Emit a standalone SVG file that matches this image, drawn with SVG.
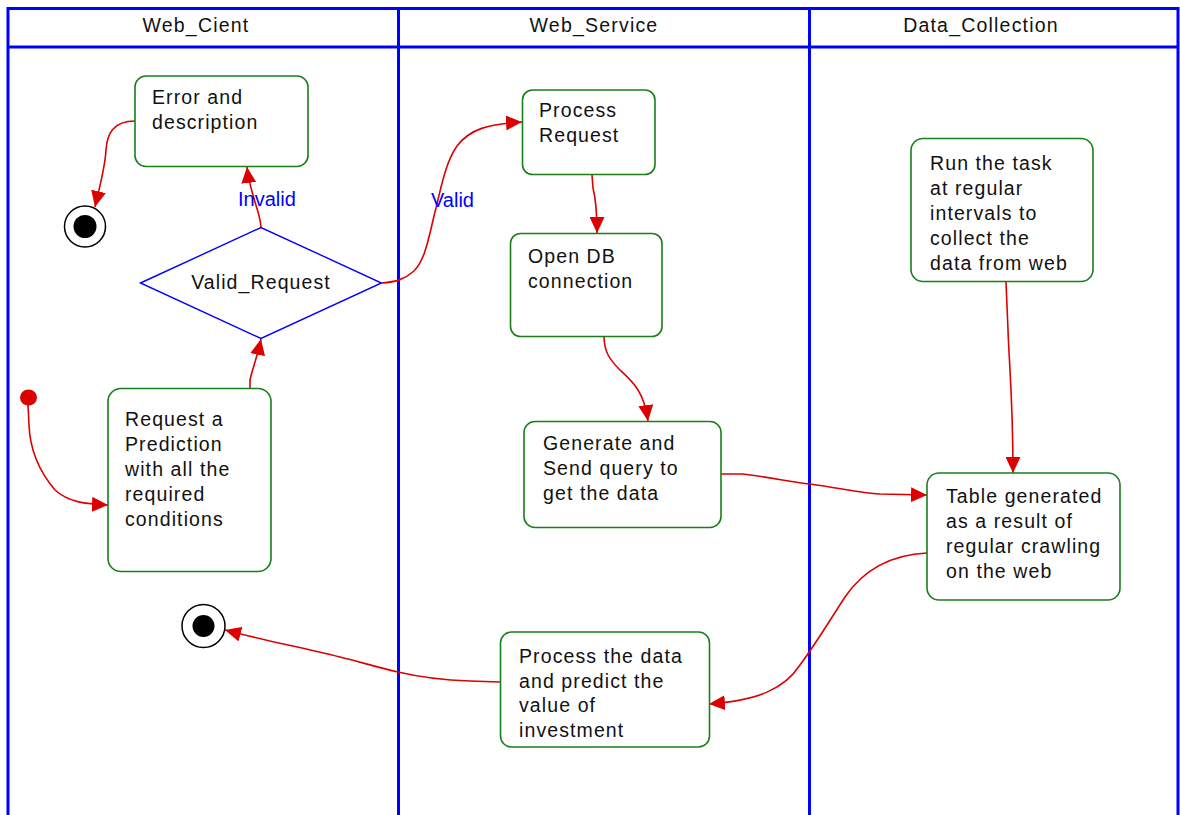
<svg xmlns="http://www.w3.org/2000/svg" width="1180" height="815" viewBox="0 0 1180 815">
  <defs>
    <marker id="arrow" markerUnits="userSpaceOnUse" markerWidth="16" markerHeight="15" refX="16" refY="7.5" orient="auto">
      <path d="M0,0 L16,7.5 L0,15 Z" fill="#dd0000"/>
    </marker>
    <style>
      .lane { fill: none; stroke: #0000ff; stroke-width: 3; }
      .head { font-family: "Liberation Sans", Arial, sans-serif; font-size: 19.5px; letter-spacing: 1.2px; fill: #111; text-anchor: middle; }
      .box { fill: #ffffff; stroke: #1a7f1a; stroke-width: 1.6; }
      .txt { font-family: "Liberation Sans", Arial, sans-serif; font-size: 19.5px; letter-spacing: 1.1px; fill: #111; }
      .edge { fill: none; stroke: #dd0000; stroke-width: 1.6; marker-end: url(#arrow); }
      .guard { font-family: "Liberation Sans", Arial, sans-serif; font-size: 20px; fill: #0000ff; }
      .dec { fill: #ffffff; stroke: #0000ff; stroke-width: 1.4; }
    </style>
  </defs>

  <rect width="1180" height="815" fill="#ffffff"/>

  <!-- swimlanes -->
  <g id="lanes">
    <path class="lane" d="M8,815 L8,8.5 L1178,8.5 L1178,815"/>
    <line class="lane" x1="8" y1="47" x2="1178" y2="47"/>
    <line class="lane" x1="398.5" y1="8.5" x2="398.5" y2="815"/>
    <line class="lane" x1="809.5" y1="8.5" x2="809.5" y2="815"/>
    <text class="head" x="196" y="32">Web_Cient</text>
    <text class="head" x="594" y="32">Web_Service</text>
    <text class="head" x="981" y="32">Data_Collection</text>
  </g>

  <!-- transitions -->
  <g id="connectors">
    <path class="edge" d="M135,121 C113,121 107,134 106,150 C105,168 100,185 95,207"/>
    <path class="edge" d="M261,227 C260,214 255,204 253,195 C250,185 248,176 247,167"/>
    <path class="edge" d="M382,283 C396,282 405,279 414,271 C426,259 429,235 436,208 C442,182 447,160 457,146 C470,129 488,124 522,122"/>
    <path class="edge" d="M592,175 L593,188 C595,196 597,206 597,233"/>
    <path class="edge" d="M604,336 C604,352 610,360 620,370 C634,383 644,392 648,421"/>
    <path class="edge" d="M721,474 L742,474 C770,477 790,482 810,484 C840,488 860,493 880,494 L927,495"/>
    <path class="edge" d="M1006,282 L1008,330 C1009,362 1013,400 1013,473"/>
    <path class="edge" d="M927,553 C885,555 860,575 845,597 C830,620 815,645 800,665 C785,688 760,700 709,704"/>
    <path class="edge" d="M500,682 L470,681 C440,680 415,676 398,672 C380,668 360,662 340,657 C300,647 262,640 225,630"/>
    <path class="edge" d="M28,405 L29,425 C30,450 38,470 55,490 C68,502 85,504 108,505"/>
    <path class="edge" d="M250,388 L250,380 C252,370 257,358 261,339"/>
    <text class="guard" x="238" y="206">Invalid</text>
    <text class="guard" x="431" y="207">Valid</text>
  </g>

  <g id="start">
    <ellipse cx="28.5" cy="397.5" rx="8.5" ry="8" fill="#dd0000"/>
  </g>

  <g id="end_error">
    <circle cx="85" cy="226.5" r="20.5" fill="#ffffff" stroke="#000" stroke-width="1.5"/>
    <circle cx="85" cy="226.5" r="11.5" fill="#000"/>
  </g>

  <g id="end_result">
    <circle cx="203.5" cy="626" r="21.5" fill="#ffffff" stroke="#000" stroke-width="1.5"/>
    <circle cx="203.5" cy="626" r="11" fill="#000"/>
  </g>

  <g id="error_description">
    <rect class="box" x="135" y="76" width="173" height="90.5" rx="11"/>
    <text class="txt" x="152" y="104">Error and</text>
    <text class="txt" x="152" y="129">description</text>
  </g>

  <g id="valid_request">
    <polygon class="dec" points="140.5,283 261,227.5 381.5,283 261,338.5"/>
    <text class="txt" x="261" y="289" text-anchor="middle">Valid_Request</text>
  </g>

  <g id="request_prediction">
    <rect class="box" x="108" y="388.5" width="163" height="183" rx="13"/>
    <text class="txt" x="125" y="426">Request a</text>
    <text class="txt" x="125" y="451">Prediction</text>
    <text class="txt" x="125" y="476">with all the</text>
    <text class="txt" x="125" y="501">required</text>
    <text class="txt" x="125" y="526">conditions</text>
  </g>

  <g id="process_request">
    <rect class="box" x="522.5" y="90" width="132.5" height="84.5" rx="10"/>
    <text class="txt" x="539" y="117">Process</text>
    <text class="txt" x="539" y="142">Request</text>
  </g>

  <g id="open_db">
    <rect class="box" x="510.5" y="233.5" width="151.5" height="103" rx="10"/>
    <text class="txt" x="528" y="263">Open DB</text>
    <text class="txt" x="528" y="288">connection</text>
  </g>

  <g id="send_query">
    <rect class="box" x="524" y="421.5" width="197" height="106" rx="11"/>
    <text class="txt" x="543" y="450">Generate and</text>
    <text class="txt" x="543" y="475">Send query to</text>
    <text class="txt" x="543" y="500">get the data</text>
  </g>

  <g id="process_data">
    <rect class="box" x="500.5" y="632" width="209" height="115" rx="11"/>
    <text class="txt" x="519" y="663">Process the data</text>
    <text class="txt" x="519" y="688">and predict the</text>
    <text class="txt" x="519" y="712">value of</text>
    <text class="txt" x="519" y="737">investment</text>
  </g>

  <g id="run_task">
    <rect class="box" x="911" y="138.5" width="182" height="143" rx="12"/>
    <text class="txt" x="930" y="170">Run the task</text>
    <text class="txt" x="930" y="195">at regular</text>
    <text class="txt" x="930" y="220">intervals to</text>
    <text class="txt" x="930" y="245">collect the</text>
    <text class="txt" x="930" y="270">data from web</text>
  </g>

  <g id="crawl_table">
    <rect class="box" x="927" y="473" width="193" height="127" rx="12"/>
    <text class="txt" x="946" y="503">Table generated</text>
    <text class="txt" x="946" y="528">as a result of</text>
    <text class="txt" x="946" y="553">regular crawling</text>
    <text class="txt" x="946" y="578">on the web</text>
  </g>
</svg>
